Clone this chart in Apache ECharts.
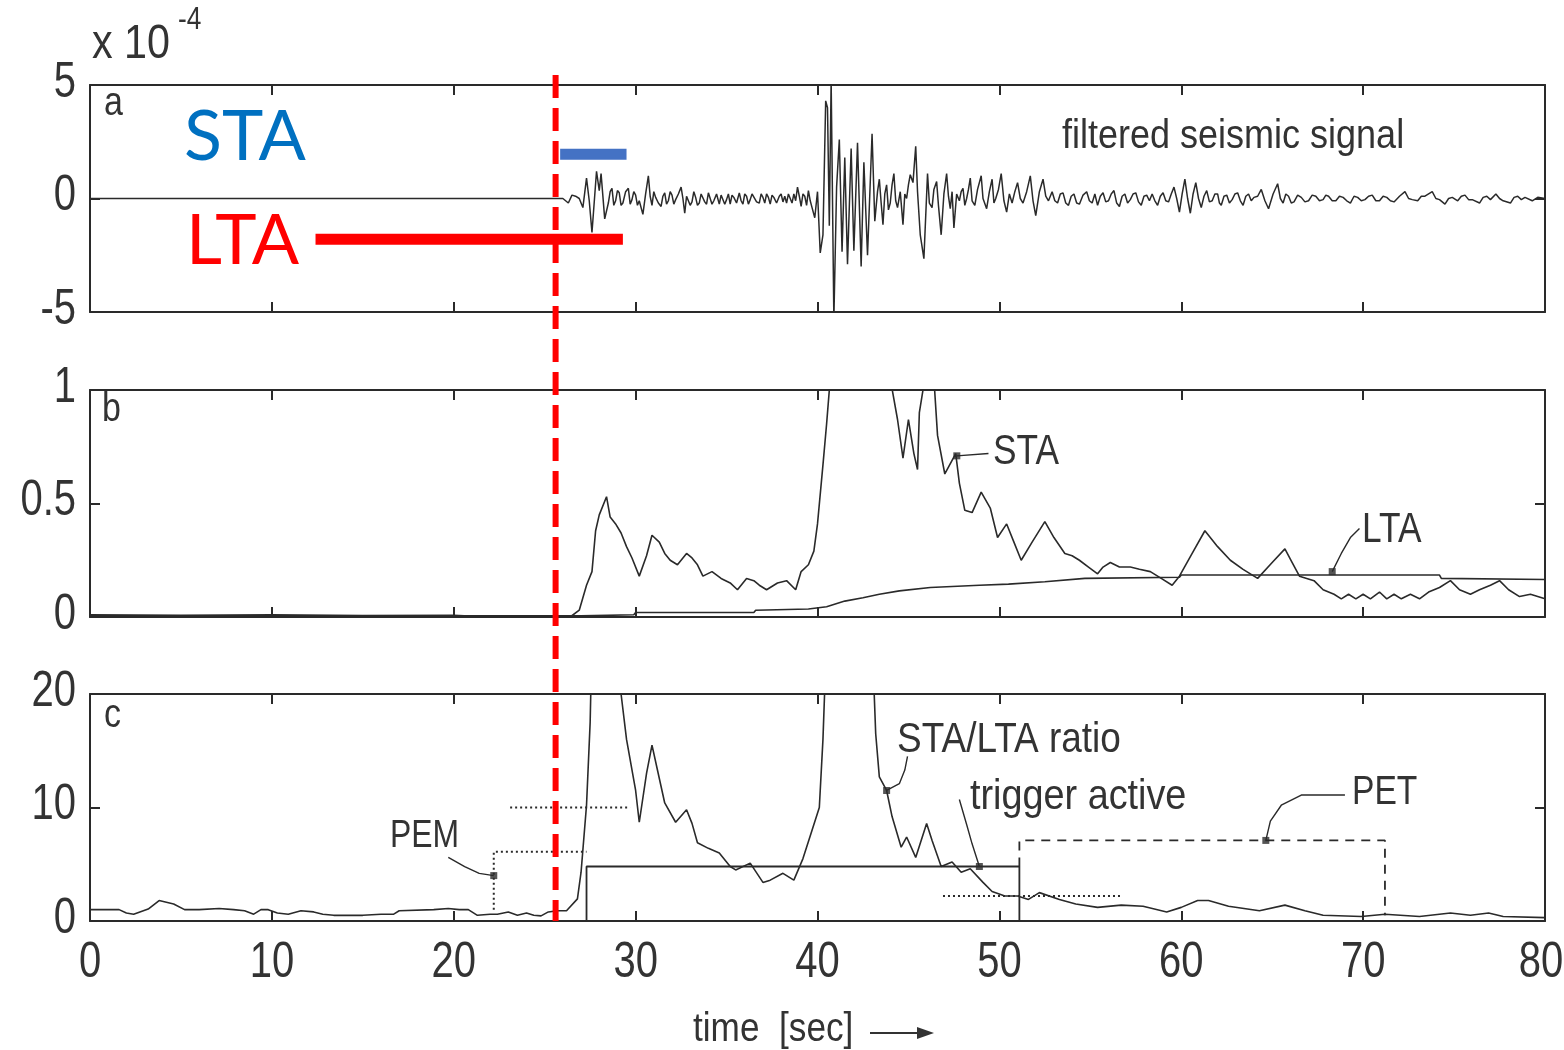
<!DOCTYPE html>
<html><head><meta charset="utf-8">
<script src="https://cdn.jsdelivr.net/npm/echarts@6/dist/echarts.min.js"></script>
<style>html,body{margin:0;padding:0;background:#fff}#c{width:1564px;height:1050px}</style>
</head><body><div id="c"></div>
<script>
// ---------- data ----------
const timeTicks = [0, 10, 20, 30, 40, 50, 60, 70, 80];
const ticksA = [-5, 0, 5];
const ticksB = [0, 0.5, 1];
const ticksC = [0, 10, 20];

// filtered seismic signal (x 1e-4)
const signal = [[0,0],[26.0,0],[26.3,-0.2],[26.5,0.15],[26.7,0.1],[26.9,0],[27.1,-0.4],[27.3,0.9],[27.45,-0.1],[27.6,-1.5],[27.85,1.2],[28.0,0.35],[28.1,1.1],[28.3,-0.9],[28.5,-0.2],[28.6,0.3],[28.7,0.45],[28.8,-0.3],[28.9,-0.1],[29.0,0.35],[29.1,0.25],[29.2,-0.3],[29.3,-0.2],[29.45,0.3],[29.6,0.45],[29.7,-0.25],[29.8,-0.05],[29.9,0.3],[30.0,0.15],[30.1,-0.3],[30.2,-0.1],[30.4,-0.7],[30.55,0.2],[30.7,1.0],[30.8,0.1],[30.9,-0.3],[31.0,0.3],[31.1,0.05],[31.25,-0.2],[31.4,-0.35],[31.5,0.1],[31.6,0.25],[31.7,-0.25],[31.8,-0.1],[31.9,0.3],[32.0,0.15],[32.1,-0.25],[32.2,-0.05],[32.35,0.2],[32.5,0.5],[32.6,0.0],[32.7,-0.65],[32.8,0.1],[32.9,0.15],[33.0,-0.3],[33.1,-0.15],[33.2,0.3],[33.3,0.05],[33.4,-0.3],[33.5,-0.2],[33.6,0.2],[33.7,0.25],[33.8,-0.15],[33.9,-0.25],[34.0,0.25],[34.1,0.2],[34.2,-0.25],[34.3,-0.1],[34.45,0.2],[34.6,-0.25],[34.7,0.15],[34.8,0.1],[34.9,-0.25],[35.0,-0.05],[35.1,0.2],[35.2,-0.25],[35.3,0.15],[35.4,0.05],[35.55,-0.2],[35.7,0.25],[35.8,-0.1],[35.9,-0.25],[36.0,0.2],[36.1,0.1],[36.2,-0.25],[36.3,-0.05],[36.4,0.2],[36.5,0.15],[36.65,-0.15],[36.8,-0.2],[36.9,0.2],[37.0,0.05],[37.1,-0.2],[37.2,0.2],[37.3,0.05],[37.4,-0.25],[37.5,0.15],[37.6,0.05],[37.75,-0.2],[37.9,0.1],[38.0,0.2],[38.1,-0.15],[38.2,0.1],[38.3,-0.2],[38.4,0.2],[38.5,0.15],[38.6,-0.2],[38.7,0.2],[38.8,-0.1],[38.9,0.5],[39.0,0.1],[39.1,-0.35],[39.2,0.2],[39.3,0.1],[39.4,-0.3],[39.5,0.35],[39.6,-0.1],[39.7,-0.4],[39.85,-0.85],[40.0,0.3],[40.15,-2.4],[40.3,-1.6],[40.45,4.3],[40.55,4.0],[40.65,-1.2],[40.75,5.2],[40.9,-5.3],[41.05,0.5],[41.2,2.6],[41.35,-2.35],[41.5,1.8],[41.65,-2.9],[41.85,2.2],[42.0,-2.3],[42.2,2.45],[42.4,-3.0],[42.55,1.6],[42.75,-2.5],[43.0,2.85],[43.15,-1.0],[43.3,0.3],[43.4,0.85],[43.5,-0.2],[43.6,-1.15],[43.7,0.2],[43.8,0.6],[43.9,-0.5],[44.0,-0.2],[44.1,0.6],[44.2,1.1],[44.3,-0.1],[44.4,-0.4],[44.55,0.3],[44.7,-1.15],[44.8,0.2],[44.9,0.0],[45.0,0.6],[45.1,1.05],[45.25,0.7],[45.4,2.3],[45.5,0.3],[45.65,-1.6],[45.85,-2.65],[46.05,1.1],[46.15,-0.2],[46.3,-0.4],[46.4,0.4],[46.55,0.75],[46.65,-0.3],[46.8,-1.6],[46.95,0.2],[47.1,1.1],[47.2,0.1],[47.3,-0.45],[47.4,0.3],[47.5,-1.3],[47.65,0.2],[47.8,-0.1],[47.9,0.3],[48.0,0.45],[48.1,-0.3],[48.2,0.0],[48.3,0.4],[48.4,0.9],[48.5,-0.1],[48.65,-0.3],[48.8,0.4],[49.0,1.0],[49.1,0.0],[49.3,-0.45],[49.45,0.3],[49.6,0.85],[49.7,-0.2],[49.8,0.0],[49.95,0.4],[50.1,1.1],[50.25,-0.1],[50.4,-0.6],[50.55,0.2],[50.7,-0.2],[50.85,0.3],[51.0,0.7],[51.15,0.0],[51.3,-0.2],[51.5,0.3],[51.7,1.0],[51.85,-0.1],[52.0,-0.75],[52.2,0.3],[52.4,0.85],[52.55,0.1],[52.7,-0.1],[52.9,0.3],[53.05,-0.1],[53.2,-0.2],[53.35,0.2],[53.5,0.25],[53.65,-0.2],[53.8,-0.3],[53.95,0.1],[54.1,0.2],[54.25,-0.2],[54.4,-0.25],[54.6,0.15],[54.8,0.3],[54.95,-0.1],[55.1,-0.2],[55.25,0.2],[55.4,-0.3],[55.55,0.1],[55.7,0.25],[55.85,-0.15],[56.0,-0.1],[56.15,0.2],[56.3,0.35],[56.45,-0.2],[56.6,-0.35],[56.75,0.1],[56.9,0.2],[57.05,-0.2],[57.2,-0.05],[57.35,0.2],[57.5,0.25],[57.65,-0.15],[57.8,-0.3],[57.95,0.1],[58.1,0.15],[58.25,-0.1],[58.4,0.2],[58.55,-0.1],[58.7,-0.3],[58.85,0.1],[59.0,0.25],[59.15,-0.1],[59.3,-0.15],[59.45,0.2],[59.6,0.5],[59.75,0.0],[59.9,-0.6],[60.05,0.2],[60.2,0.85],[60.35,0.0],[60.5,-0.65],[60.65,0.2],[60.8,0.7],[60.95,0.0],[61.1,-0.4],[61.25,0.1],[61.4,0.35],[61.55,-0.15],[61.7,-0.1],[61.85,0.2],[62.0,0.2],[62.1,-0.2],[62.2,-0.3],[62.35,0.1],[62.5,0.15],[62.65,-0.2],[62.8,-0.05],[62.95,0.2],[63.1,0.25],[63.25,-0.1],[63.4,-0.3],[63.55,0.1],[63.7,0.2],[63.85,-0.1],[64.0,0.05],[64.2,0.1],[64.4,0.4],[64.6,-0.1],[64.8,-0.45],[65.05,0.2],[65.3,0.65],[65.45,0.0],[65.6,-0.2],[65.75,0.2],[65.9,0.1],[66.05,-0.2],[66.2,-0.15],[66.4,0.15],[66.6,0.05],[66.8,-0.15],[67.0,-0.1],[67.2,0.15],[67.4,0.1],[67.6,-0.1],[67.8,-0.05],[67.95,0.15],[68.1,0.1],[68.3,-0.1],[68.5,-0.1],[68.7,0.1],[68.9,0.05],[69.1,-0.1],[69.3,-0.2],[69.5,0.1],[69.7,0.05],[69.9,-0.1],[70.1,-0.05],[70.3,0.1],[70.5,0.15],[70.7,-0.1],[70.9,-0.1],[71.1,0.1],[71.3,0.05],[71.5,-0.1],[71.7,-0.15],[72.0,0.1],[72.3,0.3],[72.5,0.0],[72.7,-0.05],[73.0,-0.1],[73.2,0.1],[73.4,0.1],[73.8,0.3],[74.0,0.0],[74.2,-0.05],[74.5,-0.25],[74.7,0.0],[74.9,0.05],[75.2,-0.1],[75.4,0.1],[75.6,0.15],[75.8,-0.05],[76.0,-0.05],[76.4,-0.2],[76.6,0.05],[76.8,0.1],[77.0,-0.05],[77.3,0.2],[77.5,0.0],[77.7,-0.1],[78.1,-0.2],[78.3,0.05],[78.5,0.1],[78.7,-0.05],[78.9,0.05],[79.3,-0.1],[79.6,0.05],[80,0]];

// short-term average
const sta = [[0,0.01],[5,0.008],[10,0.01],[15,0.006],[20,0.008],[22,0.0],[25,0.005],[26.4,0.0],[26.9,0.03],[27.3,0.14],[27.6,0.2],[27.8,0.38],[28.0,0.45],[28.4,0.53],[28.6,0.44],[28.9,0.41],[29.2,0.37],[29.5,0.31],[29.8,0.26],[30.2,0.18],[30.6,0.27],[30.9,0.36],[31.3,0.33],[31.6,0.28],[31.9,0.25],[32.3,0.23],[32.8,0.28],[33.1,0.26],[33.4,0.23],[33.7,0.18],[34.2,0.2],[34.7,0.17],[35.2,0.15],[35.6,0.12],[36.1,0.17],[36.5,0.16],[36.8,0.14],[37.2,0.12],[37.8,0.15],[38.3,0.16],[38.8,0.12],[39.1,0.2],[39.5,0.23],[39.8,0.29],[40.0,0.41],[40.3,0.67],[40.5,0.85],[40.7,1.05],[44.0,1.05],[44.4,0.87],[44.7,0.7],[45.0,0.87],[45.3,0.72],[45.5,0.65],[45.6,0.9],[45.9,1.05],[46.4,1.05],[46.6,0.8],[47.0,0.63],[47.6,0.72],[47.8,0.59],[48.1,0.47],[48.5,0.46],[49.0,0.55],[49.5,0.48],[49.9,0.35],[50.4,0.41],[50.8,0.33],[51.2,0.25],[51.8,0.33],[52.5,0.42],[53.0,0.35],[53.6,0.28],[54.0,0.27],[54.4,0.25],[54.9,0.22],[55.4,0.19],[55.7,0.22],[56.1,0.24],[56.6,0.22],[57.2,0.22],[57.7,0.21],[58.3,0.2],[58.9,0.17],[59.5,0.14],[59.9,0.18],[60.6,0.28],[61.3,0.38],[62.0,0.31],[62.7,0.25],[63.4,0.21],[64.2,0.17],[65.0,0.24],[65.7,0.3],[66.1,0.24],[66.5,0.18],[67.3,0.16],[67.8,0.12],[68.4,0.1],[68.8,0.08],[69.2,0.1],[69.6,0.08],[70.0,0.1],[70.4,0.08],[70.9,0.11],[71.3,0.08],[71.7,0.1],[72.1,0.08],[72.6,0.1],[73.1,0.08],[73.6,0.11],[74.2,0.13],[74.8,0.16],[75.3,0.12],[75.9,0.1],[76.4,0.12],[77.0,0.14],[77.5,0.16],[78.0,0.12],[78.6,0.09],[79.2,0.1],[80,0.08]];

// long-term average
const lta = [[0,0.005],[27,0.005],[29.9,0.01],[30.0,0.02],[36.5,0.02],[36.6,0.03],[39.5,0.035],[40.5,0.045],[41.5,0.07],[42.5,0.085],[43.4,0.1],[44.5,0.115],[46.2,0.13],[48.9,0.14],[50.5,0.145],[52.5,0.155],[54.7,0.17],[59.9,0.175],[60.0,0.185],[74.2,0.185],[74.3,0.17],[80,0.165]];

// STA/LTA ratio
const ratio = [[0,1.0],[1.6,1.0],[2.0,0.7],[2.4,0.6],[3.2,1.05],[3.8,1.8],[4.6,1.5],[5.2,1.0],[6.0,1.0],[7.1,1.1],[7.9,1.0],[8.5,0.9],[9.0,0.6],[9.4,1.0],[9.8,1.0],[10.3,0.7],[10.9,0.6],[11.6,0.9],[12.3,0.8],[12.8,0.6],[13.4,0.5],[15.0,0.5],[16.0,0.6],[16.7,0.6],[17.0,0.9],[18.9,1.0],[19.7,1.1],[20.3,1.0],[20.8,1.0],[21.3,0.5],[22.0,0.6],[22.4,0.6],[23.0,0.8],[23.5,0.5],[24.0,0.7],[24.4,0.5],[24.8,0.45],[25.2,0.8],[25.7,0.9],[26.2,0.9],[26.8,1.95],[27.0,4.3],[27.3,10.2],[27.5,17.5],[27.6,25],[29.1,25],[29.2,20],[29.5,16],[30.0,11.5],[30.2,8.7],[30.6,13],[30.9,15.5],[31.2,13.3],[31.6,10.4],[32.2,8.7],[32.8,9.8],[33.1,8.6],[33.4,6.9],[34.0,6.4],[34.6,6.0],[35.2,4.8],[35.5,4.5],[36.3,5.1],[37.0,3.4],[37.4,3.6],[38.1,4.2],[38.7,3.6],[39.2,5.5],[39.7,8.0],[40.1,10],[40.3,16],[40.5,25],[43.0,25],[43.2,16.5],[43.4,12.7],[43.8,11.5],[44.1,9.2],[44.6,6.5],[44.9,7.4],[45.4,5.6],[46.0,8.6],[46.3,7.1],[46.8,4.8],[47.4,5.2],[47.9,4.3],[48.4,4.6],[49.1,3.4],[49.6,2.6],[50.3,2.2],[51.0,2.2],[51.6,1.9],[52.2,2.5],[53.3,1.9],[54.2,1.5],[55.4,1.2],[56.7,1.4],[57.9,1.3],[59.2,0.8],[60.0,1.2],[60.9,1.8],[61.5,1.8],[62.6,1.3],[64.3,0.9],[65.7,1.4],[66.8,0.9],[67.8,0.5],[69.9,0.4],[71.2,0.6],[73.1,0.4],[74.8,0.7],[75.9,0.5],[76.9,0.7],[77.7,0.4],[80,0.3]];

// annotation geometry (data units)
const triggerBox = [[27.3,0],[27.3,4.8],[51.1,4.8],[51.1,0]];
const petBox = [[51.1,4.8],[51.1,7.1],[71.2,7.1],[71.2,0.5]];
const trigThreshold = [[23.1,10],[29.7,10]];
const detrigThreshold = [[46.9,2.2],[56.7,2.2]];
const pemLine = [[22.2,1.0],[22.2,6.1],[27.3,6.1]];
const pemLeader = [[19.7,5.6],[20.6,4.8],[21.4,4.2],[22.2,4.0]];
const ratioLeader = [[43.8,11.5],[44.5,12.1],[44.8,13.3],[44.95,14.5]];
const trigLeader = [[47.8,10.7],[48.2,8.5],[48.5,6.8],[48.9,4.8]];
const petLeader = [[64.65,7.1],[64.9,8.8],[65.5,10.2],[66.6,11.1],[69.0,11.1]];
const cMarks = [[22.2,4.0],[43.8,11.5],[48.9,4.8],[64.65,7.1]];
const staLeader = [[47.66,0.71],[49.4,0.72]];
const ltaLeader = [[68.3,0.2],[68.8,0.28],[69.3,0.35],[69.8,0.39]];
const bMarks = [[47.66,0.71],[68.3,0.2]];
const staWindow = [[25.85,1.95],[29.5,1.95]];
const ltaWindow = [[12.4,-1.8],[29.3,-1.8]];
const onsetTime = 25.6;

// ---------- chart ----------
const F = "'Liberation Sans',Arial,sans-serif";
const INK = '#2a2a2a';
const chart = echarts.init(document.getElementById('c'), null, {renderer: 'canvas'});

const gridTops = [85, 390, 694];
const grids = gridTops.map(t => ({left: 90, right: 19, top: t, height: 227}));
const yTicks = [ticksA, ticksB, ticksC];

const axisLine = {show: true, onZero: false, lineStyle: {color: INK, width: 2}};
const tick = {show: true, inside: true, length: 10, lineStyle: {color: INK, width: 2}};

const xAxes = [], yAxes = [];
grids.forEach((g, i) => {
  ['bottom', 'top'].forEach(pos => xAxes.push({type: 'value', gridIndex: i, position: pos,
    min: timeTicks[0], max: timeTicks[timeTicks.length-1], interval: timeTicks[1]-timeTicks[0],
    axisLine, axisTick: tick, splitLine: {show: false}, axisLabel: {show: false}}));
  const yt = yTicks[i];
  ['left', 'right'].forEach(pos => yAxes.push({type: 'value', gridIndex: i, position: pos,
    min: yt[0], max: yt[yt.length-1], interval: yt[1]-yt[0],
    axisLine, axisTick: tick, splitLine: {show: false}, axisLabel: {show: false}}));
});

function line(data, gi, opts = {}) {
  return Object.assign({type: 'line', xAxisIndex: 2*gi, yAxisIndex: 2*gi, data, symbol: 'none', silent: true,
    lineStyle: {color: INK, width: 1.6}, z: 3}, opts);
}
function styled(data, gi, ls, extra = {}) {
  return line(data, gi, Object.assign({lineStyle: Object.assign({color: INK, width: 1.6}, ls)}, extra));
}

const series = [
  line(signal, 0, {lineStyle: {color: INK, width: 1.5}}),
  styled(staWindow, 0, {color: '#4472C4', width: 11, cap: 'butt'}, {z: 6, clip: false}),
  styled(ltaWindow, 0, {color: '#FF0000', width: 11, cap: 'butt'}, {z: 6, clip: false}),
  line(sta, 1),
  line(lta, 1),
  styled(staLeader, 1, {width: 1.4}),
  styled(ltaLeader, 1, {width: 1.4}),
  {type: 'scatter', xAxisIndex: 2, yAxisIndex: 2, data: bMarks, symbol: 'rect', symbolSize: 7, itemStyle: {color: INK}, silent: true, z: 4},
  line(ratio, 2),
  styled(triggerBox, 2, {width: 1.8}),
  styled(petBox, 2, {width: 1.8, type: [9, 7]}),
  styled(trigThreshold, 2, {width: 2, type: [2, 3]}),
  styled(detrigThreshold, 2, {width: 2, type: [2, 3]}),
  styled(pemLine, 2, {width: 2, type: [2, 3]}),
  styled(pemLeader, 2, {width: 1.4}),
  styled(ratioLeader, 2, {width: 1.4}),
  styled(trigLeader, 2, {width: 1.4}),
  styled(petLeader, 2, {width: 1.4}),
  {type: 'scatter', xAxisIndex: 4, yAxisIndex: 4, data: cMarks, symbol: 'rect', symbolSize: 7, itemStyle: {color: INK}, silent: true, z: 4}
];

// narrow text (scaled horizontally to mimic the condensed plotting font)
function txt(text, x, y, size, sx = 0.9, align = 'left', extra = {}) {
  return {type: 'text', z: 50, x, y, scaleX: sx, style: Object.assign({text, x: 0, y: 0, font: `${size}px ${F}`, fill: '#333',
    textAlign: align, textVerticalAlign: 'middle'}, extra)};
}
const BIG = "Lato,'Open Sans','Noto Sans',sans-serif";

const graphic = [
  txt('x 10', 92, 45, 48, 0.86),
  txt('-4', 178, 20, 32, 0.82),
  txt('a', 104, 104, 40, 0.85),
  txt('b', 102, 410, 40, 0.85),
  txt('c', 104, 716, 40, 0.85),
  txt('filtered seismic signal', 1062, 137, 40, 0.9),
  txt('STA', 993, 452, 42, 0.84),
  txt('LTA', 1362, 530, 42, 0.84),
  txt('STA/LTA ratio', 897, 740, 42, 0.88),
  txt('trigger active', 970, 797, 42, 0.9),
  txt('PET', 1352, 793, 40, 0.84),
  txt('PEM', 390, 837, 38, 0.84),
  txt('time  [sec]', 693, 1030, 40, 0.88),
  {type: 'line', z: 50, shape: {x1: 870, y1: 1033, x2: 925, y2: 1033}, style: {stroke: '#333', lineWidth: 2}},
  {type: 'polygon', z: 50, shape: {points: [[917, 1027], [934, 1033], [917, 1039]]}, style: {fill: '#333'}},
  {type: 'text', z: 50, style: {text: 'STA', x: 184, y: 137, font: `70px ${BIG}`, fill: '#0070C0', textVerticalAlign: 'middle'}},
  {type: 'text', z: 50, style: {text: 'LTA', x: 186, y: 241, font: `70px ${BIG}`, fill: '#FF0000', textVerticalAlign: 'middle'}}
];

chart.setOption({animation: false, backgroundColor: '#fff', grid: grids, xAxis: xAxes, yAxis: yAxes, series, graphic});

// tick labels placed through the axes' own scales
timeTicks.forEach(t => {
  const px = Math.min(chart.convertToPixel({xAxisIndex: 4}, t), 1564 - 23);
  graphic.push(txt(String(t), px, 963, 50, 0.8, 'center'));
});
yTicks.forEach((yt, i) => {
  yt.forEach(v => {
    graphic.push(txt(String(v), 76, chart.convertToPixel({yAxisIndex: 2*i}, v) - 2, 50, 0.8, 'right'));
  });
});

// red dashed onset line spanning all panels
const xOn = chart.convertToPixel({xAxisIndex: 0}, onsetTime);
const yTop = chart.convertToPixel({yAxisIndex: 0}, ticksA[ticksA.length-1]) - 10;
const yBot = chart.convertToPixel({yAxisIndex: 4}, ticksC[0]);
graphic.push({type: 'line', z: 60, shape: {x1: xOn, y1: yTop, x2: xOn, y2: yBot},
  style: {stroke: '#FF0000', lineWidth: 6, lineDash: [23, 10]}});
chart.setOption({graphic});
</script></body></html>
